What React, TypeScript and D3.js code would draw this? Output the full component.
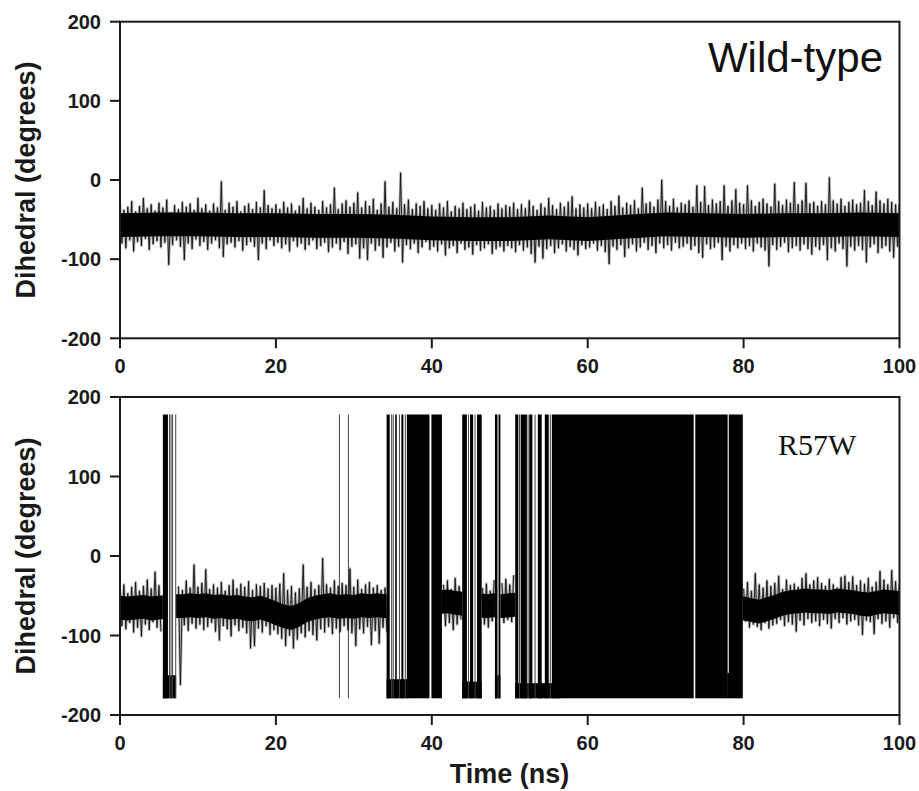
import React from 'react';
import * as d3 from 'd3';

// ---------- data ----------
const timeTicks = [0, 20, 40, 60, 80, 100];
const angleTicks = [-200, -100, 0, 100, 200];
const STEP = 0.5; // ns between successive upper samples

// Wild-type: upper excursions (t = i*0.5) and lower excursions (t = i*0.5 + 0.25)
const wtHi = [
  -30, -38, -34, -27, -40, -33, -23, -36, -31, -39, -29, -35, -25, -41, -32, -37, -28, -34, -30, -38,
  -23, -36, -31, -39, -30, -35, -2, -38, -29, -34, -27, -40, -33, -30, -37, -28, -35, -13, -32, -36,
  -31, -37, -28, -35, -30, -39, -33, -23, -36, -29, -34, -38, -27, -35, -31, -10, -37, -30, -26, -34,
  -29, -16, -35, -27, -33, -24, -38, -30, -2, -34, -28, -36, 9, -31, -25, -37, -30, -33, -27, -36,
  -32, -38, -30, -35, -27, -40, -33, -36, -29, -37, -34, -31, -39, -28, -35, -33, -38, -30, -36, -32,
  -34, -29, -37, -31, -36, -26, -33, -38, -30, -35, -23, -32, -37, -29, -34, -28, -21, -36, -31, -35,
  -30, -36, -28, -34, -31, -37, -27, -33, -20, -35, -29, -32, -26, -36, -10, -30, -28, -34, -25, 0,
  -27, -33, -24, -35, -29, -31, -26, -34, -7, -28, -8, -32, -25, -30, -27, -7, -33, -26, -12, -29,
  -31, -7, -26, -33, -28, -24, -30, -34, -5, -27, -32, -25, -29, -3, -31, -26, -4, -30, -28, -33,
  -27, -31, 3, -26, -30, -24, -33, -28, -25, -31, -29, -13, -27, -32, -15, -26, -30, -24, -28, -31,
  -30,
];
const wtLo = [
  -80, -86, -76, -90, -78, -83, -74, -88, -81, -77, -85, -79, -107, -82, -76, -84, -101, -80, -87, -75,
  -83, -78, -88, -80, -76, -86, -97, -81, -79, -85, -77, -89, -82, -78, -84, -101, -80, -87, -76, -83,
  -79, -86, -81, -90, -77, -84, -80, -88, -82, -76, -87, -83, -79, -91, -85, -80, -88, -78, -93, -84,
  -81, -99, -86, -101, -80, -89, -83, -98, -85, -79, -90, -84, -104, -82, -87, -80, -92, -85, -78, -88,
  -84, -90, -81, -95, -86, -83, -92, -80, -88, -85, -94, -82, -89, -86, -81, -93, -87, -84, -90, -83,
  -86, -91, -82, -89, -85, -93, -104, -84, -99, -87, -83, -92, -86, -81, -90, -84, -88, -95, -82, -87,
  -85, -80, -89, -83, -91, -106, -84, -88, -82, -97, -86, -81, -90, -85, -79, -88, -83, -92, -80, -86,
  -82, -89, -79, -86, -84, -80, -88, -83, -92, -98, -81, -87, -85, -79, -101, -84, -90, -82, -86, -80,
  -87, -83, -90, -80, -85, -89, -109, -82, -88, -84, -79, -91, -86, -83, -89, -81, -87, -94, -84, -88,
  -82, -101, -86, -90, -80, -87, -109, -84, -89, -83, -88, -104, -85, -81, -92, -86, -83, -90, -98, -84,
];
// Wild-type dense core centre, every 5 ns
const wtCenterTimes = [0, 5, 10, 15, 20, 25, 30, 35, 40, 45, 50, 55, 60, 65, 70, 75, 80, 85, 90, 95, 100];
const wtCenter = [-57, -56, -56, -57, -57, -58, -58, -59, -61, -62, -62, -60, -62, -59, -56, -57, -58, -57, -57, -56, -57];

// R57W: gauche-state excursions (null while in the trans state)
const r57Hi = [
  -42, -36, -47, -39, -33, -44, -38, -30, -41, -20, -37, null, null, null, null, -38, -43, -31, -40, -11,
  -39, -34, -17, -42, -36, -40, -33, -44, -37, -30, -41, -35, -39, -32, -43, -36, -38, -34, -41, -37,
  -40, -35, -22, -43, -38, -46, -41, -11, -39, -33, -42, -37, -3, -36, -40, -31, -38, -34, -37, -16,
  -39, -30, -42, -36, -33, -40, -37, -43, -40, null, null, null, null, null, null, null, null, null, null, null,
  null, null, null, -36, -31, -42, -28, -38, null, null, null, null, null, -40, -35, -44, -30, null, -34, -29,
  -36, -24, null, null, null, null, null, null, null, null, null, null, null, null, null, null, null, null, null, null,
  null, null, null, null, null, null, null, null, null, null, null, null, null, null, null, null, null, null, null, null,
  null, null, null, null, null, null, null, null, null, null, null, null, null, null, null, null, null, null, null, null,
  -41, -33, -44, -22, -36, -40, -31, -38, -34, -25, -42, -30, -37, -35, -39, -28, -22, -36, -31, -27,
  -34, -38, -29, -36, -40, -27, -25, -33, -26, -37, -31, -35, -28, -39, -33, -19, -30, -36, -18, -32,
  -35,
];
const r57Lo = [
  -88, -92, -84, -96, -90, -101, -86, -93, -83, -90, -95, null, null, null, null, -162, -87, -94, -85, -91,
  -86, -93, -89, -84, -95, -106, -88, -92, -101, -87, -94, -90, -97, -116, -113, -91, -96, -88, -99, -93,
  -98, -104, -113, -100, -116, -105, -97, -102, -94, -99, -106, -92, -96, -89, -98, -91, -95, -88, -93, -97,
  -113, -92, -97, -89, -112, -94, -110, -90, -96, null, null, null, null, null, null, null, null, null, null, null,
  null, null, null, -88, -84, -93, -86, -80, null, null, null, null, null, -86, -90, -82, null, null, -84, -80,
  -83, null, null, null, null, null, null, null, null, null, null, null, null, null, null, null, null, null, null, null,
  null, null, null, null, null, null, null, null, null, null, null, null, null, null, null, null, null, null, null, null,
  null, null, null, null, null, null, null, null, null, null, null, null, null, null, null, null, null, null, null, null,
  -82, -90, -86, -89, -93, -84, -91, -87, -85, -80, -88, -83, -86, -95, -81, -87, -79, -84, -82, -88,
  -80, -85, -91, -79, -84, -78, -86, -82, -80, -87, -99, -81, -83, -98, -79, -85, -82, -90, -78, -84,
];
// R57W dense core centre, every 1 ns
const r57Center = [
  -65, -66, -65, -64, -66, -65, -64, -63, -63, -62,
  -63, -62, -64, -63, -65, -64, -66, -67, -65, -68,
  -72, -76, -78, -74, -68, -65, -63, -62, -64, -63,
  -64, -62, -63, -62, -63, -62, null, null, null, null,
  null, -58, -57, -59, -60, -61, -62, -63, -62, -63,
  -62, -61, null, null, null, null, null, null, null, null,
  null, null, null, null, null, null, null, null, null, null,
  null, null, null, null, null, null, null, null, null, -66,
  -66, -68, -70, -67, -64, -60, -58, -57, -56, -57,
  -57, -58, -56, -57, -58, -60, -61, -59, -57, -58,
  -59,
];
// R57W: time windows (ns) in the gauche (~-60°) state
const r57Gauche: [number, number][] = [[0, 5.5], [7.2, 34.2], [41.3, 43.9], [46.4, 48.1], [48.8, 50.7], [79.9, 100]];
// R57W: windows of dense ±180° wrapping (solid)
const r57Solid: [number, number][] = [
  [5.5, 6.15], [34.2, 34.6], [35.3, 35.5], [36.1, 36.35], [36.8, 39.7], [39.95, 41.3],
  [43.9, 44.5], [44.9, 45.3], [45.8, 46.4], [48.1, 48.4], [48.6, 48.8],
  [50.7, 51.1], [51.4, 52.2], [52.5, 52.9], [53.6, 54.1], [54.5, 55.0], [55.4, 73.6], [73.8, 77.95], [78.1, 79.9],
];
// R57W: isolated wraps through ±180°
const r57Wraps = [6.35, 6.55, 6.75, 7.15, 28.15, 29.3, 34.85, 35.05, 35.85, 36.6, 44.7, 45.55, 48.5, 51.25, 52.35, 53.25, 55.2];
// R57W: dwelling near -180° [start, end, upper edge]
const r57Bands: [number, number, number][] = [
  [5.5, 7.2, -150], [34.2, 37.0, -155], [43.9, 46.4, -158], [48.1, 48.8, -150], [50.7, 56.5, -160], [77.9, 78.2, -147],
];
const TRANS_TOP = 178;
const TRANS_BOTTOM = -179;
const CORE_HALF = 15;

// ---------- layout ----------
const W = 919;
const H = 791;
const X0 = 120;
const X1 = 899.5;
const FONT = "'Liberation Sans', Arial, Helvetica, sans-serif";

const x = d3.scaleLinear().domain([0, 100]).range([X0, X1]);

type Pt = [number, number | null];

function zigzag(hi: (number | null)[], lo: (number | null)[]): Pt[] {
  const pts: Pt[] = [];
  hi.forEach((h, i) => {
    pts.push([i * STEP, h]);
    if (i < lo.length) pts.push([i * STEP + STEP / 2, lo[i]]);
  });
  return pts;
}

function Trace(props: { d: string }) {
  return (
    <g>
      <path d={props.d} fill="none" stroke="#000" strokeOpacity={0.28} strokeWidth={2.8} strokeLinejoin="round" />
      <path d={props.d} fill="none" stroke="#111" strokeWidth={0.9} strokeLinejoin="miter" strokeMiterlimit={2} />
    </g>
  );
}

function Panel(props: {
  id: string;
  top: number;
  bottom: number;
  children: (y: d3.ScaleLinear<number, number>) => React.ReactNode;
}) {
  const { id, top, bottom } = props;
  const y = d3.scaleLinear().domain([-200, 200]).range([bottom, top]);
  const midY = (top + bottom) / 2;
  return (
    <g>
      <defs>
        <clipPath id={`plot-${id}`}>
          <rect x={X0} y={top} width={X1 - X0} height={bottom - top} />
        </clipPath>
      </defs>
      <g clipPath={`url(#plot-${id})`}>{props.children(y)}</g>
      <rect x={X0} y={top} width={X1 - X0} height={bottom - top} fill="none" stroke="#1a1a1a" strokeWidth={2} />
      {angleTicks.map((v) => (
        <g key={`y${v}`}>
          <line x1={X0 - 10} x2={X0} y1={y(v)} y2={y(v)} stroke="#1a1a1a" strokeWidth={2} />
          <text x={X0 - 19} y={y(v)} dy="0.36em" textAnchor="end" fontFamily={FONT} fontWeight="bold" fontSize={20} fill="#1a1a1a">
            {v}
          </text>
        </g>
      ))}
      {timeTicks.map((t) => (
        <g key={`x${t}`}>
          <line x1={x(t)} x2={x(t)} y1={bottom} y2={bottom + 10} stroke="#1a1a1a" strokeWidth={2} />
          <text x={x(t)} y={bottom + 35} textAnchor="middle" fontFamily={FONT} fontWeight="bold" fontSize={20} fill="#1a1a1a">
            {t}
          </text>
        </g>
      ))}
      <text
        transform={`translate(35, ${midY}) rotate(-90)`}
        textAnchor="middle"
        fontFamily={FONT}
        fontWeight="bold"
        fontSize={27}
        fill="#1a1a1a"
      >
        Dihedral (degrees)
      </text>
    </g>
  );
}

export default function App() {
  const wtPts = zigzag(wtHi, wtLo);
  const r57Pts = zigzag(r57Hi, r57Lo);

  return (
    <svg width={W} height={H} viewBox={`0 0 ${W} ${H}`} style={{ position: 'absolute', left: 0, top: 0, background: '#fff' }}>
      <rect x={0} y={0} width={W} height={H} fill="#fff" />
      <Panel id="wt" top={21.7} bottom={338.3}>
        {(y) => {
          const line = d3.line<Pt>().defined((d) => d[1] !== null).x((d) => x(d[0])).y((d) => y(d[1] as number));
          const core = d3
            .area<number>()
            .x((_, i) => x(wtCenterTimes[i]))
            .y0((c) => y(c - CORE_HALF))
            .y1((c) => y(c + CORE_HALF));
          return (
            <g>
              <Trace d={line(wtPts) || ''} />
              <path d={core(wtCenter) || ''} fill="#000" />
            </g>
          );
        }}
      </Panel>
      <text x={883} y={72} textAnchor="end" fontFamily={FONT} fontSize={42} fill="#111">
        Wild-type
      </text>

      <Panel id="r57" top={397} bottom={715}>
        {(y) => {
          const line = d3.line<Pt>().defined((d) => d[1] !== null).x((d) => x(d[0])).y((d) => y(d[1] as number));
          const core = d3
            .area<number | null>()
            .defined((c) => c !== null)
            .x((_, i) => x(i))
            .y0((c) => y((c as number) - CORE_HALF))
            .y1((c) => y((c as number) + CORE_HALF));
          return (
            <g>
              <defs>
                <clipPath id="gauche-r57">
                  {r57Gauche.map(([s, e], i) => (
                    <rect key={i} x={x(s)} y={0} width={x(e) - x(s)} height={H} />
                  ))}
                </clipPath>
              </defs>
              {r57Bands.map(([s, e, top], i) => (
                <rect key={`b${i}`} x={x(s)} width={x(e) - x(s)} y={y(top)} height={y(TRANS_BOTTOM) - y(top)} fill="#000" />
              ))}
              {r57Solid.map(([s, e], i) => (
                <rect key={`s${i}`} x={x(s)} width={x(e) - x(s)} y={y(TRANS_TOP)} height={y(TRANS_BOTTOM) - y(TRANS_TOP)} fill="#000" />
              ))}
              {r57Wraps.map((t, i) => (
                <line key={`w${i}`} x1={x(t)} x2={x(t)} y1={y(TRANS_TOP)} y2={y(TRANS_BOTTOM)} stroke="#444" strokeWidth={1} />
              ))}
              <Trace d={line(r57Pts) || ''} />
              <g clipPath="url(#gauche-r57)">
                <path d={core(r57Center) || ''} fill="#000" />
              </g>
            </g>
          );
        }}
      </Panel>
      <text x={778} y={455} fontFamily="'Liberation Serif', 'Times New Roman', serif" fontSize={30} fill="#111">
        R57W
      </text>
      <text x={509.5} y={783} textAnchor="middle" fontFamily={FONT} fontWeight="bold" fontSize={27} fill="#1a1a1a">
        Time (ns)
      </text>
    </svg>
  );
}
